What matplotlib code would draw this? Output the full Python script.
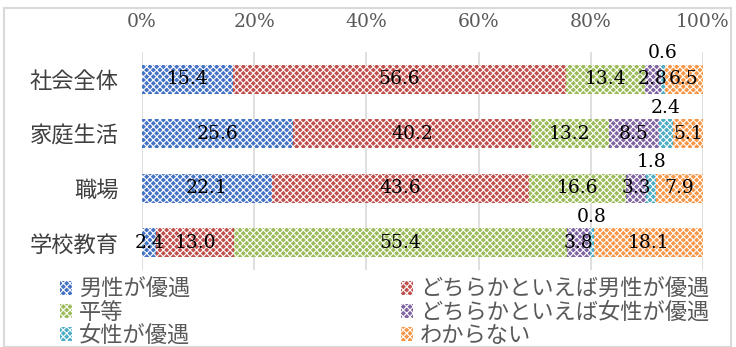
"""Stacked 100% bar chart: perceived gender equality by domain"""
import numpy as np
import matplotlib.pyplot as plt
from matplotlib.patches import Rectangle

plt.rcParams['font.family'] = ['Noto Sans CJK JP', 'DejaVu Sans']
plt.rcParams['hatch.linewidth'] = 0.8

categories = ['社会全体', '家庭生活', '職場', '学校教育']
series_names = ['男性が優遇', 'どちらかといえば男性が優遇', '平等',
                'どちらかといえば女性が優遇', '女性が優遇', 'わからない']
values = np.array([
    [15.4, 56.6, 13.4, 2.8, 0.6, 6.5],
    [25.6, 40.2, 13.2, 8.5, 2.4, 5.1],
    [22.1, 43.6, 16.6, 3.3, 1.8, 7.9],
    [2.4, 13.0, 55.4, 3.8, 0.8, 18.1],
])
colors = ['#4472C4', '#C0504D', '#9BBB59', '#8064A2', '#4BACC6', '#F79646']
xticks = [0, 20, 40, 60, 80, 100]

shares = values / values.sum(axis=1, keepdims=True) * 100

fig = plt.figure(figsize=(7.36, 3.47), dpi=100)
ax = fig.add_axes([142 / 736, 1 - 270 / 347, 561 / 736, 218 / 347])

y = np.arange(len(categories))
left = np.zeros(len(categories))
handles = []
for j, name in enumerate(series_names):
    bars = ax.barh(y, shares[:, j], left=left, height=0.54,
                   color=colors[j], edgecolor='white', linewidth=0,
                   hatch='xxxxx', label=name, zorder=3)
    handles.append(bars)
    for i in range(len(categories)):
        xc = left[i] + shares[i, j] / 2
        # the thin "女性が優遇" segment gets its label above the bar
        yc = y[i] - 0.48 if j == 4 else y[i]
        ax.text(xc, yc, f'{values[i, j]:.1f}', ha='center', va='center',
                fontsize=13.5, family='DejaVu Serif', color='black',
                zorder=5)
    left += shares[:, j]

ax.set_xlim(0, 100)
ax.set_ylim(3.5, -0.5)
ax.set_xticks(xticks)
ax.set_xticklabels([f'{t}%' for t in xticks], family='DejaVu Serif',
                   fontsize=13.5, color='#595959')
ax.xaxis.tick_top()
ax.tick_params(axis='x', length=0, pad=15)
ax.set_yticks(y)
ax.set_yticklabels(categories, fontsize=16, color='#404040')
ax.tick_params(axis='y', length=0, pad=17)
ax.grid(axis='x', color='#D9D9D9', linewidth=1.2, zorder=0)
for s in ax.spines.values():
    s.set_visible(False)

order = [0, 2, 4, 1, 3, 5]
fig.legend([handles[k] for k in order], [series_names[k] for k in order],
           ncol=2, loc='upper left', bbox_to_anchor=(60 / 736, 1 - 278 / 347),
           frameon=False, fontsize=16, labelcolor='#595959',
           handlelength=0.55, handleheight=0.55, handletextpad=0.3,
           columnspacing=9.5, labelspacing=0.0, borderaxespad=0,
           borderpad=0)

fig.patches.append(Rectangle((4 / 736, 0), 727 / 736, 1 - 8 / 347,
                             transform=fig.transFigure, fill=False,
                             edgecolor='#D9D9D9', linewidth=1.5))

fig.savefig('out.png', dpi=100)
